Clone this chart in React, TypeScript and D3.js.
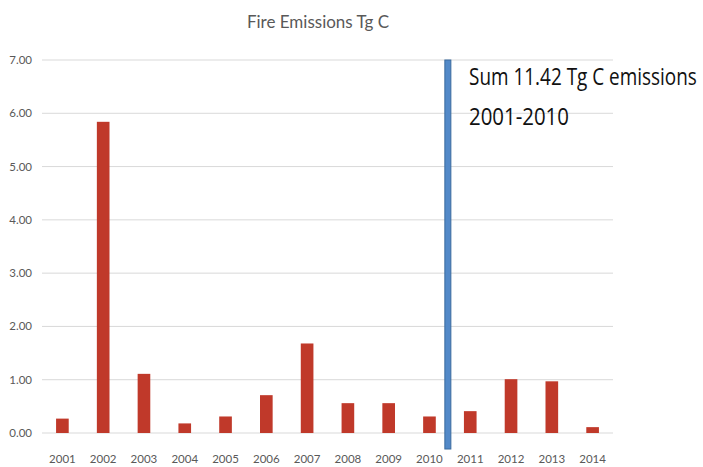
import React, { useEffect, useRef } from "react";
import * as d3 from "d3";

const years = ["2001","2002","2003","2004","2005","2006","2007","2008","2009","2010","2011","2012","2013","2014"];
const emissions = [0.27, 5.84, 1.11, 0.18, 0.31, 0.71, 1.68, 0.56, 0.56, 0.31, 0.41, 1.01, 0.97, 0.11];
const yTicks = [0, 1, 2, 3, 4, 5, 6, 7];
const title = "Fire Emissions Tg C";
const noteLines = ["Sum 11.42 Tg C emissions", "2001-2010"];

const W = 703, H = 467;
const M = { left: 42, right: 90, top: 60, bottom: 34 };

export default function App() {
  const ref = useRef<SVGSVGElement>(null);
  useEffect(() => {
    const svg = d3.select(ref.current);
    svg.selectAll("*").remove();
    const font = "Lato, 'Open Sans', sans-serif";
    const x = d3.scaleBand().domain(years).range([M.left, W - M.right]).paddingInner(0.69).paddingOuter(0.345);
    const y = d3.scaleLinear().domain([0, 7]).range([H - M.bottom, M.top]);

    svg.append("rect").attr("width", W).attr("height", H).attr("fill", "#fff");

    svg.append("text").attr("x", 318).attr("y", 28).attr("text-anchor", "middle")
      .attr("font-family", font).attr("font-size", 17).attr("fill", "#595959").text(title);

    const g = svg.append("g");
    g.selectAll("line.grid").data(yTicks).join("line")
      .attr("x1", M.left).attr("x2", W - M.right)
      .attr("y1", d => y(d)).attr("y2", d => y(d))
      .attr("stroke", "#d9d9d9").attr("stroke-width", 1);
    g.selectAll("text.yt").data(yTicks).join("text")
      .attr("x", 32).attr("y", d => y(d) + 4).attr("text-anchor", "end")
      .attr("font-family", font).attr("font-size", 11.5).attr("fill", "#595959")
      .text(d => d3.format(".2f")(d));

    g.selectAll("rect.bar").data(emissions).join("rect")
      .attr("x", (_, i) => x(years[i])!)
      .attr("width", x.bandwidth())
      .attr("y", d => y(d))
      .attr("height", d => y(0) - y(d))
      .attr("fill", "#c0392a");

    g.selectAll("text.xt").data(years).join("text")
      .attr("x", d => x(d)! + x.bandwidth() / 2).attr("y", H - 4)
      .attr("text-anchor", "middle")
      .attr("font-family", font).attr("font-size", 11.5).attr("fill", "#595959")
      .text(d => d);

    const xb = (x("2010")! + x("2011")! + x.bandwidth()) / 2 - 2;
    g.append("rect").attr("x", xb - 3).attr("width", 6)
      .attr("y", y(7)).attr("height", y(0) - y(7) + 16)
      .attr("fill", "#5289c8").attr("stroke", "#3a6a9e").attr("stroke-width", 1);

    const targetW = [228, 100];
    noteLines.forEach((t, i) => {
      const grp = svg.append("g");
      const txt = grp.append("text").attr("x", 0).attr("y", 0)
        .attr("font-family", "'Open Sans', sans-serif").attr("font-size", 24)
        .attr("fill", "#111").text(t);
      const len = (txt.node() as SVGTextElement).getComputedTextLength() || targetW[i];
      const sx = Math.min(1, targetW[i] / len);
      grp.attr("transform", `translate(469,${85 + i * 40}) scale(${sx},1)`);
    });
  }, []);
  return <svg ref={ref} width={W} height={H} style={{ display: "block", position: "absolute", left: 0, top: 0 }} />;
}
